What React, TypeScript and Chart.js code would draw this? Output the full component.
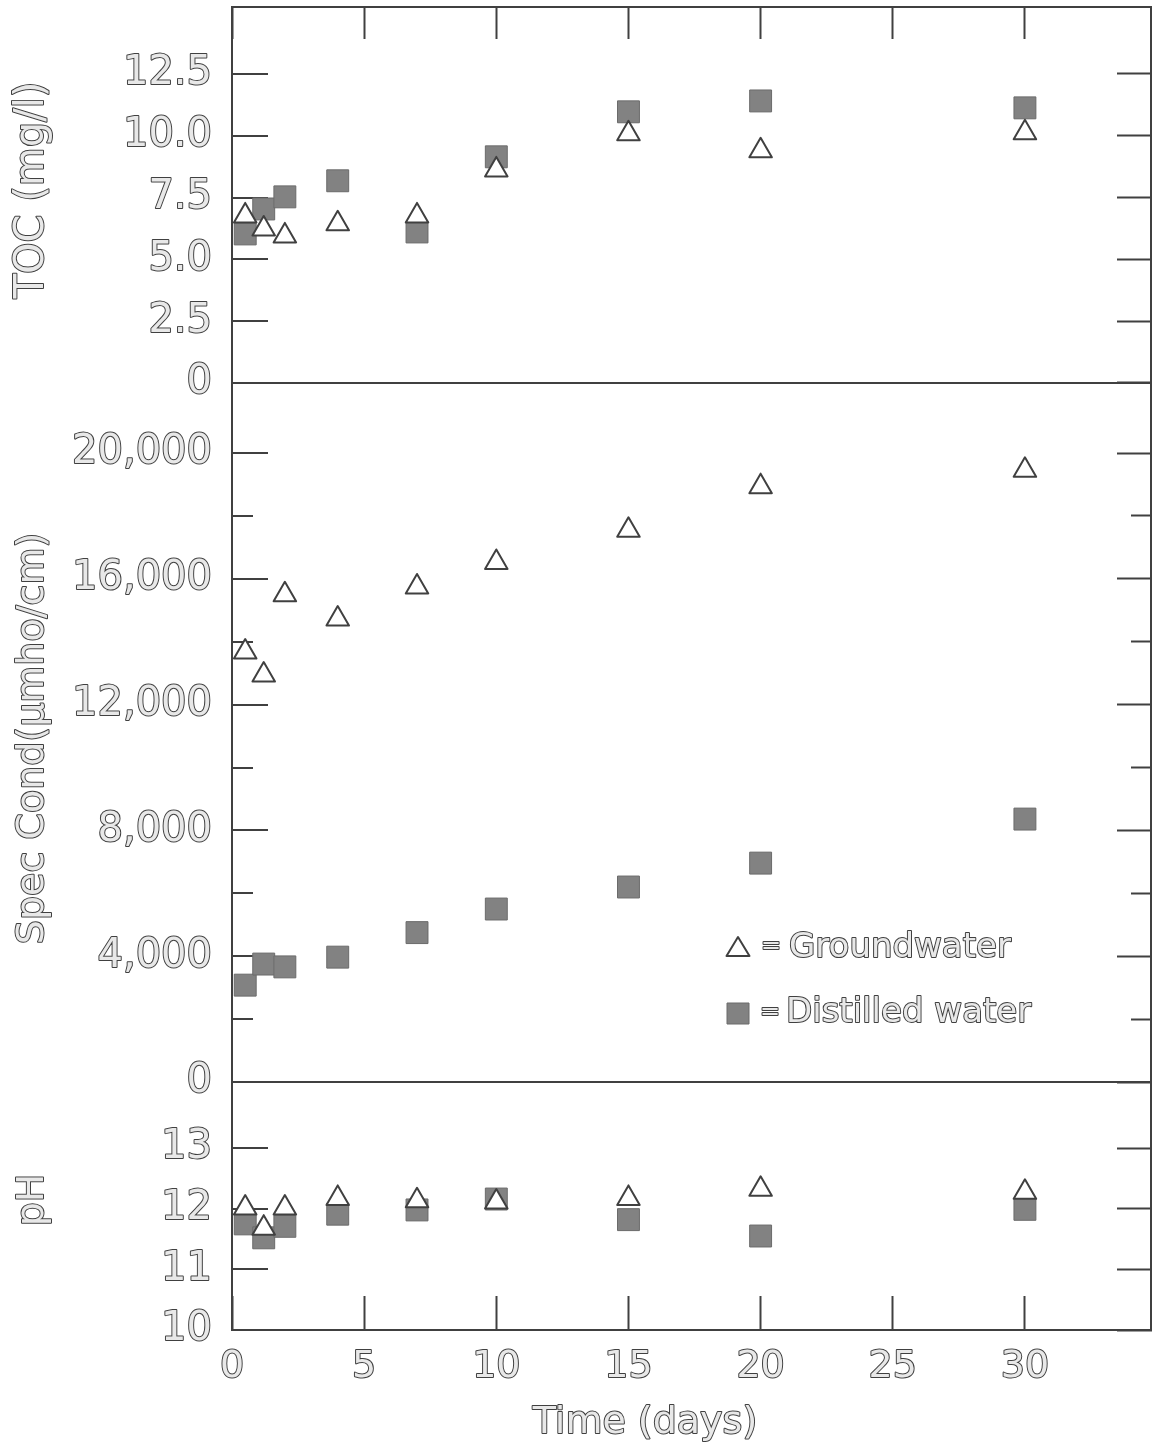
import React, { useEffect, useRef } from 'react';
import { Chart, registerables } from 'chart.js';

Chart.register(...registerables);

// ---------------- data ----------------
const days = [0.5, 1.2, 2, 4, 7, 10, 15, 20, 30];

const tocGroundwater = [6.76, 6.23, 5.95, 6.44, 6.76, 8.62, 10.08, 9.39, 10.12];
const tocDistilled = [6.03, 7.04, 7.53, 8.18, 6.11, 9.15, 10.97, 11.41, 11.13];

const condGroundwater = [13670, 12940, 15490, 14720, 15740, 16520, 17540, 18930, 19450];
const condDistilled = [3080, 3750, 3660, 3970, 4750, 5500, 6200, 6960, 8360];

const phGroundwater = [12.01, 11.68, 12.01, 12.17, 12.13, 12.11, 12.17, 12.32, 12.27];
const phDistilled = [11.75, 11.52, 11.71, 11.91, 11.98, 12.16, 11.82, 11.55, 11.99];

const seriesLabels = ['Groundwater', 'Distilled water'];

const timeTicks = [0, 5, 10, 15, 20, 25, 30];
const tocTicks = [0, 2.5, 5, 7.5, 10, 12.5];
const condTicks = [0, 2000, 4000, 6000, 8000, 10000, 12000, 14000, 16000, 18000, 20000];
const condLabelledTicks = [0, 4000, 8000, 12000, 16000, 20000];
const phTicks = [10, 11, 12, 13];

const timeRange = [0, 34.77];
const tocRange = [0, 15.21];
const condRange = [0, 22226];
const phRange = [10, 14.09];

const tocTitle = 'TOC (mg/l)';
const condTitle = 'Spec Cond(\u03bcmho/cm)';
const phTitle = 'pH';
const timeTitle = 'Time (days)';

// ---------------- style ----------------
const FONT = "'DejaVu Sans', 'Liberation Sans', sans-serif";
const INK = '#404040';
const PAPER = '#e8e8e8';
const SQUARE = '#828282';

const tickValues = (list: number[]) => (s: any) => {
  s.ticks = list.map((v) => ({ value: v }));
};

const isMinor = (c: any) =>
  !!c.tick && condTicks.includes(c.tick.value) && !condLabelledTicks.includes(c.tick.value);

function leftAxis(
  weight: number,
  stackWeight: number,
  range: number[],
  ticks: number[],
  label: (v: number) => string,
  divider: number | null,
  withMinor: boolean
) {
  return {
    type: 'linear',
    axis: 'y',
    position: 'left',
    stack: 'panels',
    stackWeight,
    weight,
    min: range[0],
    max: range[1],
    afterBuildTicks: tickValues(ticks),
    afterFit: (s: any) => {
      s.width = 232;
      s.paddingTop = 0;
      s.paddingBottom = 0;
    },
    border: { display: true, color: INK, width: 2 },
    grid: {
      drawOnChartArea: true,
      drawTicks: true,
      tickLength: -36,
      color: (c: any) => (c.tick && c.tick.value === divider ? INK : 'rgba(0,0,0,0)'),
      lineWidth: 2,
      tickColor: INK,
      tickWidth: 2,
      tickBorderDash: (c: any) => (withMinor && isMinor(c) ? [21, 15] : []),
      tickBorderDashOffset: (c: any) => (withMinor && isMinor(c) ? 21 : 0),
    },
    ticks: {
      autoSkip: false,
      padding: 56,
      font: { family: FONT, size: 40 },
      color: PAPER,
      textStrokeColor: INK,
      textStrokeWidth: 2,
      callback: (v: any) => label(Number(v)),
    },
  };
}

function rightAxis(weight: number, stackWeight: number, range: number[], ticks: number[], withMinor: boolean) {
  return {
    type: 'linear',
    axis: 'y',
    position: 'right',
    stack: 'panels',
    stackWeight,
    weight,
    min: range[0],
    max: range[1],
    afterBuildTicks: tickValues(ticks),
    afterFit: (s: any) => {
      s.width = 0;
      s.paddingTop = 0;
      s.paddingBottom = 0;
    },
    border: { display: true, color: INK, width: 2 },
    grid: {
      drawOnChartArea: false,
      drawTicks: true,
      tickLength: -34,
      color: INK,
      tickColor: INK,
      tickWidth: 2,
      tickBorderDash: (c: any) => (withMinor && isMinor(c) ? [21, 100] : []),
      tickBorderDashOffset: 0,
    },
    ticks: { display: false },
  };
}

function hollowText(
  ctx: CanvasRenderingContext2D,
  text: string,
  x: number,
  y: number,
  size: number,
  align: CanvasTextAlign,
  baseline: CanvasTextBaseline,
  rotation: number
) {
  ctx.save();
  ctx.translate(x, y);
  ctx.rotate(rotation);
  ctx.font = `${size}px ${FONT}`;
  ctx.textAlign = align;
  ctx.textBaseline = baseline;
  ctx.lineJoin = 'round';
  ctx.lineWidth = 2;
  ctx.strokeStyle = INK;
  ctx.strokeText(text, 0, 0);
  ctx.fillStyle = PAPER;
  ctx.fillText(text, 0, 0);
  ctx.restore();
}

const textPlugin = {
  id: 'panelText',
  beforeDraw(chart: any) {
    chart.ctx.lineJoin = 'round';
  },
  afterDraw(chart: any) {
    const ctx: CanvasRenderingContext2D = chart.ctx;
    const { yToc, yCond, yPh } = chart.scales;
    const up = -Math.PI / 2;
    hollowText(ctx, tocTitle, 33, (yToc.top + yToc.bottom) / 2 - 5, 40, 'center', 'middle', up);
    hollowText(ctx, condTitle, 33, (yCond.top + yCond.bottom) / 2 + 6, 38, 'center', 'middle', up);
    hollowText(ctx, phTitle, 33, (yPh.top + yPh.bottom) / 2 - 6, 38, 'center', 'middle', up);
    hollowText(ctx, timeTitle, 645, 1423, 38, 'center', 'middle', 0);

    // legend
    ctx.save();
    ctx.lineJoin = 'round';
    ctx.beginPath();
    ctx.moveTo(738, 937);
    ctx.lineTo(749.5, 956);
    ctx.lineTo(726.5, 956);
    ctx.closePath();
    ctx.fillStyle = '#ffffff';
    ctx.fill();
    ctx.lineWidth = 2;
    ctx.strokeStyle = INK;
    ctx.stroke();
    ctx.fillStyle = SQUARE;
    ctx.fillRect(727, 1003, 22, 21);
    ctx.lineWidth = 1;
    ctx.strokeStyle = '#6b6b6b';
    ctx.strokeRect(727, 1003, 22, 21);
    ctx.restore();
    hollowText(ctx, '=', 771, 947, 24, 'center', 'middle', 0);
    hollowText(ctx, seriesLabels[0], 789, 957, 34, 'left', 'alphabetic', 0);
    hollowText(ctx, '=', 770, 1013, 24, 'center', 'middle', 0);
    hollowText(ctx, seriesLabels[1], 786, 1022, 34, 'left', 'alphabetic', 0);
  },
};

const toPoints = (values: number[]) => days.map((d, i) => ({ x: d, y: values[i] }));

const groundStyle = {
  pointStyle: 'triangle',
  pointRadius: 13,
  pointHoverRadius: 13,
  pointBackgroundColor: '#ffffff',
  pointBorderColor: INK,
  pointBorderWidth: 2,
  showLine: false,
};
const distilledStyle = {
  pointStyle: 'rect',
  pointRadius: 15.5,
  pointHoverRadius: 15.5,
  pointBackgroundColor: SQUARE,
  pointBorderColor: '#6b6b6b',
  pointBorderWidth: 1,
  showLine: false,
};

export default function App() {
  const ref = useRef<HTMLCanvasElement | null>(null);

  useEffect(() => {
    if (!ref.current) return;
    Chart.defaults.font.family = FONT;
    const chart = new Chart(ref.current, {
      type: 'scatter',
      data: {
        datasets: [
          { label: seriesLabels[0], data: toPoints(tocGroundwater), xAxisID: 'x', yAxisID: 'yToc', ...groundStyle },
          { label: seriesLabels[0], data: toPoints(condGroundwater), xAxisID: 'x', yAxisID: 'yCond', ...groundStyle },
          { label: seriesLabels[0], data: toPoints(phGroundwater), xAxisID: 'x', yAxisID: 'yPh', ...groundStyle },
          { label: seriesLabels[1], data: toPoints(tocDistilled), xAxisID: 'x', yAxisID: 'yToc', ...distilledStyle },
          { label: seriesLabels[1], data: toPoints(condDistilled), xAxisID: 'x', yAxisID: 'yCond', ...distilledStyle },
          { label: seriesLabels[1], data: toPoints(phDistilled), xAxisID: 'x', yAxisID: 'yPh', ...distilledStyle },
        ] as any,
      },
      options: {
        responsive: false,
        animation: false,
        events: [],
        layout: { autoPadding: false, padding: { left: 0, top: 0, right: 6, bottom: 0 } },
        plugins: { legend: { display: false }, tooltip: { enabled: false }, title: { display: false } },
        scales: {
          x: {
            type: 'linear',
            position: 'bottom',
            min: timeRange[0],
            max: timeRange[1],
            afterBuildTicks: tickValues(timeTicks),
            afterFit: (s: any) => {
              s.height = 120;
              s.paddingLeft = 0;
              s.paddingRight = 0;
            },
            border: { display: true, color: INK, width: 2 },
            grid: { drawOnChartArea: false, drawTicks: true, tickLength: -34, color: INK, tickColor: INK, tickWidth: 2 },
            ticks: {
              autoSkip: false,
              maxRotation: 0,
              padding: 48,
              font: { family: FONT, size: 38 },
              color: PAPER,
              textStrokeColor: INK,
              textStrokeWidth: 2,
              callback: (v: any) => String(v),
            },
          },
          x2: {
            type: 'linear',
            axis: 'x',
            position: 'top',
            min: timeRange[0],
            max: timeRange[1],
            afterBuildTicks: tickValues(timeTicks),
            afterFit: (s: any) => {
              s.height = 7;
              s.paddingLeft = 0;
              s.paddingRight = 0;
            },
            border: { display: true, color: INK, width: 2 },
            grid: { drawOnChartArea: false, drawTicks: true, tickLength: -32, color: INK, tickColor: INK, tickWidth: 2 },
            ticks: { display: false },
          },
          yToc: leftAxis(3, 376, tocRange, tocTicks, (v) => (v === 0 ? '0' : v.toFixed(1)), 0, false),
          yCond: leftAxis(
            2,
            699,
            condRange,
            condTicks,
            (v) => (condLabelledTicks.includes(v) ? (v === 0 ? '0' : `${v / 1000},000`) : ''),
            0,
            true
          ),
          yPh: leftAxis(1, 248, phRange, phTicks, (v) => String(v), null, false),
          yTocR: rightAxis(1, 376, tocRange, tocTicks, false),
          yCondR: rightAxis(2, 699, condRange, condTicks, true),
          yPhR: rightAxis(3, 248, phRange, phTicks, false),
        } as any,
      },
      plugins: [textPlugin],
    } as any);
    return () => chart.destroy();
  }, []);

  return (
    <div style={{ position: 'absolute', left: 0, top: 0, width: 1157, height: 1450, background: '#ffffff' }}>
      <canvas ref={ref} width={1157} height={1450} style={{ display: 'block', width: 1157, height: 1450 }} />
    </div>
  );
}
